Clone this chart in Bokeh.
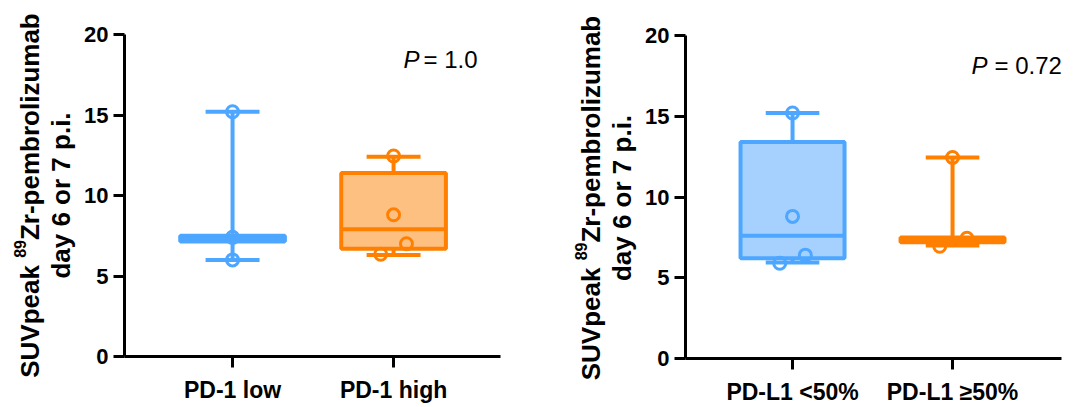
from bokeh.plotting import figure
from bokeh.layouts import row, column
from bokeh.models import FixedTicker, Label, Range1d
from bokeh.core.properties import value
from bokeh.embed import file_html
from bokeh.resources import INLINE
import math

# ---------------- data: left panel ----------------
cats_a = ["PD-1 low", "PD-1 high"]
pts_a = [[15.2, 7.4, 6.0], [12.45, 8.8, 7.0, 6.35]]
jit_a = [[0.0, 0.0, 0.0], [0.0, 0.0, 0.08, -0.08]]
lo_a = [6.0, 6.3]
q1_a = [7.15, 6.7]
med_a = [7.35, 7.9]
q3_a = [7.5, 11.4]
hi_a = [15.2, 12.4]
pval_a = "1.0"

# ---------------- data: right panel ----------------
cats_b = ["PD-L1 <50%", "PD-L1 \u226550%"]
pts_b = [[15.2, 8.8, 6.4, 5.9], [12.45, 7.45, 6.95]]
jit_b = [[0.0, 0.0, 0.08, -0.08], [0.0, 0.09, -0.08]]
lo_b = [5.95, 7.0]
q1_b = [6.2, 7.2]
med_b = [7.6, 7.35]
q3_b = [13.4, 7.5]
hi_b = [15.2, 12.45]
pval_b = "0.72"

yticks = [0, 5, 10, 15, 20]
ylab_pre = "SUVpeak "
ylab_sup = "89"
ylab_post = "Zr-pembrolizumab"
ylab_line2 = "day 6 or 7 p.i."

LINE = ["#4DA6FF", "#FF8000"]
FILL = ["#A6D1FF", "#FEC081"]
FONT = "Liberation Sans"
BOX_W = 0.65
CAP_W = 0.335
H = 407

# Arial/Liberation Sans Bold advance widths (em/1000) for label layout
ADV = {'S': 667, 'U': 722, 'V': 667, 'p': 611, 'e': 556, 'a': 556, 'k': 556, ' ': 278,
       '8': 556, '9': 556, 'Z': 611, 'r': 389, '-': 333, 'm': 889, 'b': 611, 'o': 611,
       'l': 278, 'i': 278, 'z': 500, 'u': 611}


def tw(s, size):
    return sum(ADV.get(c, 556) for c in s) * size / 1000.0


def label_fig(width, xb1, xb2, yc):
    f = figure(width=width, height=H, x_range=Range1d(0, width), y_range=Range1d(0, H),
               output_backend="svg", toolbar_location=None, min_border=0,
               min_border_left=0, min_border_right=0, min_border_top=0, min_border_bottom=0,
               x_axis_location=None, y_axis_location=None)
    f.grid.visible = False
    f.outline_line_color = None
    fs, fsup = 26, 16
    w_pre, w_sup, w_post = tw(ylab_pre, fs), tw(ylab_sup, fsup), tw(ylab_post, fs)
    start = yc - (w_pre + w_sup + w_post) / 2
    common = dict(text_font=value(FONT), text_font_style="bold", text_color="black",
                  text_baseline="alphabetic", angle=math.pi / 2)
    f.text(x=[xb1], y=[start], text=[ylab_pre], text_align="left",
           text_font_size=f"{fs}px", **common)
    f.text(x=[xb1 - 10], y=[start + w_pre], text=[ylab_sup], text_align="left",
           text_font_size=f"{fsup}px", **common)
    f.text(x=[xb1], y=[start + w_pre + w_sup], text=[ylab_post], text_align="left",
           text_font_size=f"{fs}px", **common)
    f.text(x=[xb2], y=[yc], text=[ylab_line2], text_align="center",
           text_font_size=f"{fs}px", **common)
    return column(f)


def panel(cats, pts, jit, lo, q1, med, q3, hi, pval, xr, width, borders, ptext):
    bl, br, bt, bb = borders
    p = figure(width=width, height=H, x_range=Range1d(*xr), y_range=Range1d(0, 20),
               output_backend="svg", toolbar_location=None,
               min_border_left=bl, min_border_right=br, min_border_top=bt, min_border_bottom=bb)
    p.grid.visible = False
    p.outline_line_color = None
    xs = [1, 2]
    for i, x in enumerate(xs):
        p.quad(left=x - BOX_W / 2, right=x + BOX_W / 2, bottom=q1[i], top=q3[i],
               fill_color=FILL[i], line_color=LINE[i], line_width=4)
        p.segment(x0=x - BOX_W / 2, x1=x + BOX_W / 2, y0=med[i], y1=med[i],
                  line_color=LINE[i], line_width=4)
        p.segment(x0=[x, x], x1=[x, x], y0=[q3[i], q1[i]], y1=[hi[i], lo[i]],
                  line_color=LINE[i], line_width=4)
        p.segment(x0=[x - CAP_W / 2] * 2, x1=[x + CAP_W / 2] * 2, y0=[hi[i], lo[i]], y1=[hi[i], lo[i]],
                  line_color=LINE[i], line_width=4)
        p.scatter(x=[x + j for j in jit[i]], y=pts[i], marker="circle", size=12,
                  fill_color=None, line_color=LINE[i], line_width=3)

    for ax in (p.xaxis, p.yaxis):
        ax.axis_line_width = 3
        ax.axis_line_color = "black"
        ax.major_tick_line_width = 3
        ax.major_tick_line_color = "black"
        ax.major_tick_out = 11
        ax.major_tick_in = 0
        ax.minor_tick_line_color = None
        ax.major_label_text_font = FONT
        ax.major_label_text_font_style = "bold"
        ax.major_label_text_color = "black"
    p.xaxis.ticker = FixedTicker(ticks=xs)
    p.xaxis.major_label_overrides = {1: cats[0], 2: cats[1]}
    p.xaxis.major_label_text_font_size = "23px"
    p.xaxis.major_label_standoff = 9
    p.yaxis.ticker = FixedTicker(ticks=yticks)
    p.yaxis.major_label_text_font_size = "22px"
    p.yaxis.major_label_standoff = 5

    px, ex, ty = ptext
    p.add_layout(Label(x=px, y=ty, text="P", text_font=FONT, text_font_style="italic",
                       text_font_size="24px", text_color="black", text_baseline="alphabetic"))
    p.add_layout(Label(x=ex, y=ty, text="= " + pval, text_font=FONT,
                       text_font_size="24px", text_color="black", text_baseline="alphabetic"))
    return column(p)


lf1 = label_fig(78, 29, 60, H - 195)
p1 = panel(cats_a, pts_a, jit_a, lo_a, q1_a, med_a, q3_a, hi_a, pval_a,
           (0.329, 2.664), 462, (46, 40, 34, 51), (2.062, 2.186, 18.45))
lf2 = label_fig(102, 50, 81, H - 197.5)
p2 = panel(cats_b, pts_b, jit_b, lo_b, q1_b, med_b, q3_b, hi_b, pval_b,
           (0.331, 2.681), 431, (43, 12, 35, 47), (2.119, 2.262, 18.15))

layout = row(lf1, p1, lf2, p2)
open("out.html", "w").write(file_html(layout, INLINE))
